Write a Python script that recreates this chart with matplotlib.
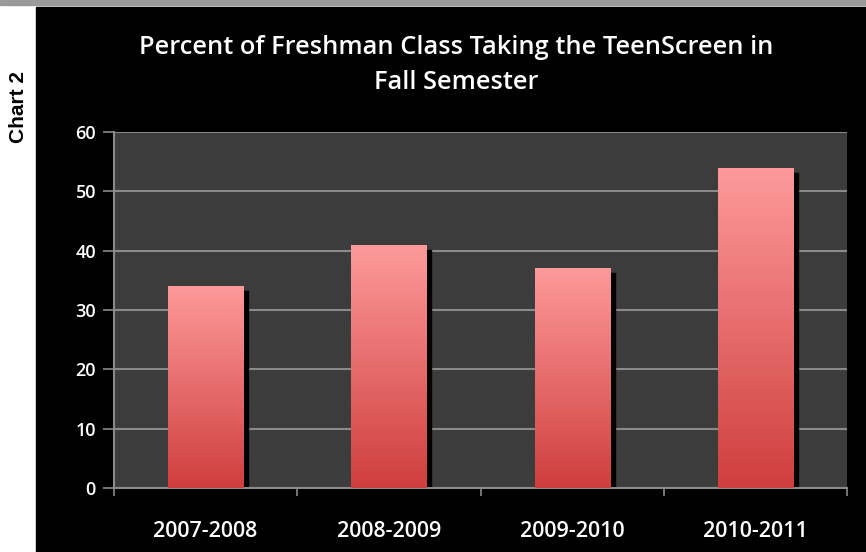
import numpy as np
import matplotlib
matplotlib.use("Agg")
import matplotlib.pyplot as plt
from matplotlib.patches import Rectangle
from matplotlib.colors import LinearSegmentedColormap
from matplotlib.transforms import ScaledTranslation

# data
years = ["2007-2008", "2008-2009", "2009-2010", "2010-2011"]
percent = [34, 41, 37, 54]
y_ticks = [0, 10, 20, 30, 40, 50, 60]

TITLE = "Percent of Freshman Class Taking the TeenScreen in\nFall Semester"
FONT = ["Open Sans", "DejaVu Sans"]

fig = plt.figure(figsize=(8.66, 5.52), dpi=100, facecolor="white")

# page background: gray strip at top, black chart area, white margin on the left
fig.patches.append(Rectangle((0, 1 - 5 / 552), 1, 5 / 552, transform=fig.transFigure,
                             color="#9a9a9a", zorder=-3))
fig.patches.append(Rectangle((36 / 866, 0), 1, 1 - 7 / 552, transform=fig.transFigure,
                             color="black", zorder=-2))
fig.text(18 / 866, 1 - 107 / 552, "Chart 2", rotation=90, ha="center", va="center",
         fontsize=15, fontweight="bold", family=["Liberation Sans", "DejaVu Sans"])

ax = fig.add_axes([114 / 866, 1 - 488 / 552, (847 - 114) / 866, (488 - 132) / 552])
ax.set_facecolor("#3c3c3c")

x = np.arange(len(years))
bars = ax.bar(x, percent, width=0.41, color="none", zorder=3)

cmap = LinearSegmentedColormap.from_list("bar", ["#cf3e3e", "#fe9a9a"])
grad = np.linspace(0, 1, 256).reshape(-1, 1)
shift = ax.transData + ScaledTranslation(5 / 100, -5 / 100, fig.dpi_scale_trans)
for b in bars:
    x0, w, h = b.get_x(), b.get_width(), b.get_height()
    ax.add_patch(Rectangle((x0, 0), w, h, transform=shift, color="black", zorder=2))
    im = ax.imshow(grad, cmap=cmap, origin="lower", aspect="auto",
                   extent=(x0, x0 + w, 0, h), zorder=3)
    im.set_clip_path(b)

ax.set_xlim(-0.5, len(years) - 0.5)
ax.set_ylim(0, 60)
ax.set_yticks(y_ticks)
ax.set_xticks(x)
ax.set_xticklabels(years, family=FONT, fontsize=15.5, fontweight="semibold", color="white")
ax.set_xticks(np.arange(-0.5, len(years)), minor=True)
ax.tick_params(axis="x", which="major", length=0, pad=24)
ax.tick_params(axis="x", which="minor", length=6, width=1.2, color="#8a8a8a")
ax.tick_params(axis="y", length=8, width=1.2, color="#8a8a8a", labelcolor="white",
               labelsize=13, pad=5)
for lab in ax.get_yticklabels():
    lab.set_family(FONT)
    lab.set_fontweight("semibold")

ax.grid(axis="y", color="#8a8a8a", linewidth=1.5, zorder=1)
ax.set_axisbelow(True)
for side in ["top", "right"]:
    ax.spines[side].set_visible(False)
for side in ["left", "bottom"]:
    ax.spines[side].set_color("#8a8a8a")
    ax.spines[side].set_linewidth(1.5)

fig.text(456 / 866, 1 - 65 / 552, TITLE, ha="center", va="center", color="white",
         fontsize=18.3, fontweight="semibold", family=FONT, linespacing=1.5)

fig.savefig("out.png", dpi=100, facecolor=fig.get_facecolor())
